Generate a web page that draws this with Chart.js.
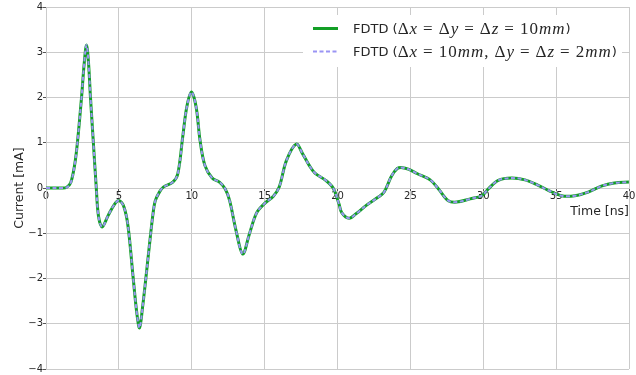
<!DOCTYPE html>
<html><head><meta charset="utf-8">
<script src="https://cdn.jsdelivr.net/npm/chart.js@4.4.0/dist/chart.umd.min.js"></script>
<style>html,body{margin:0;padding:0;background:#fff;}canvas{display:block;}</style>
</head><body>
<canvas id="c" width="636" height="375"></canvas>
<script>
// ---- data ----
const timeNs = [0, 1.0, 1.4, 1.7, 1.98, 2.17, 2.44, 2.62, 2.78, 2.92, 3.05, 3.24, 3.45, 3.6, 3.85, 4.26, 4.72, 5.02, 5.35, 5.63, 5.97, 6.24, 6.42, 6.62, 6.85, 7.05, 7.33, 7.5, 7.8, 8.05, 8.7, 9.04, 9.38, 9.66, 9.98, 10.3, 10.57, 10.9, 11.4, 11.9, 12.3, 12.6, 13.04, 13.5, 13.95, 14.45, 14.97, 15.6, 16.0, 16.5, 17.17, 17.6, 18.06, 18.45, 19.19, 19.7, 20.1, 20.3, 20.8, 21.27, 21.95, 22.8, 23.2, 23.7, 24.1, 24.45, 24.9, 25.45, 26.36, 26.93, 27.6, 28.18, 29.1, 29.9, 30.35, 31.03, 31.94, 32.86, 33.77, 34.46, 35.37, 36.28, 37.2, 38.1, 39.0, 40];
const currentCoarse = [0, 0, 0.01, 0.12, 0.54, 1.05, 2.01, 2.75, 3.16, 2.75, 2.01, 1.05, 0.0, -0.62, -0.86, -0.61, -0.35, -0.28, -0.42, -0.85, -1.95, -2.79, -3.09, -2.65, -2.0, -1.4, -0.6, -0.28, -0.08, 0.02, 0.13, 0.31, 1.13, 1.79, 2.12, 1.79, 1.05, 0.5, 0.22, 0.13, -0.02, -0.28, -0.94, -1.46, -1.02, -0.55, -0.35, -0.18, 0.02, 0.61, 0.97, 0.76, 0.5, 0.33, 0.17, 0.0, -0.35, -0.55, -0.67, -0.57, -0.39, -0.2, -0.09, 0.26, 0.43, 0.45, 0.41, 0.32, 0.18, -0.02, -0.28, -0.31, -0.24, -0.17, -0.02, 0.17, 0.22, 0.18, 0.06, -0.05, -0.17, -0.17, -0.09, 0.04, 0.11, 0.13];
const currentFine = [0, 0, 0.01, 0.12, 0.54, 1.05, 2.01, 2.75, 3.16, 2.75, 2.01, 1.05, 0.0, -0.62, -0.86, -0.61, -0.35, -0.28, -0.42, -0.85, -1.95, -2.79, -3.09, -2.65, -2.0, -1.4, -0.6, -0.28, -0.08, 0.02, 0.13, 0.31, 1.13, 1.79, 2.12, 1.79, 1.05, 0.5, 0.22, 0.13, -0.02, -0.28, -0.94, -1.46, -1.02, -0.55, -0.35, -0.18, 0.02, 0.61, 0.97, 0.76, 0.5, 0.33, 0.17, 0.0, -0.35, -0.55, -0.67, -0.57, -0.39, -0.2, -0.09, 0.26, 0.43, 0.45, 0.41, 0.32, 0.18, -0.02, -0.28, -0.31, -0.24, -0.17, -0.02, 0.17, 0.22, 0.18, 0.06, -0.05, -0.17, -0.17, -0.09, 0.04, 0.11, 0.13];
const xRange = [0, 40];
const xStep = 5;
const yRange = [-4, 4];
const yStep = 1;
const xTitle = 'Time [ns]';
const yTitle = 'Current [mA]';
// legend labels: [text, style]  s = sans, r = math roman, i = math italic
const legendCoarse = [['FDTD (', 's'], ['Δ', 'r'], ['x', 'i'], [' = ', 'r'], ['Δ', 'r'], ['y', 'i'], [' = ', 'r'], ['Δ', 'r'], ['z', 'i'], [' = ', 'r'], ['10', 'r'], ['mm', 'i'], [')', 's']];
const legendFine = [['FDTD (', 's'], ['Δ', 'r'], ['x', 'i'], [' = ', 'r'], ['10', 'r'], ['mm', 'i'], [', ', 'r'], ['Δ', 'r'], ['y', 'i'], [' = ', 'r'], ['Δ', 'r'], ['z', 'i'], [' = ', 'r'], ['2', 'r'], ['mm', 'i'], [')', 's']];

// ---- styles ----
const GREEN = '#139f26';
const PURPLE = '#9a94f4';
const GRID = '#cbcbcb';
const TEXT = '#262626';
const FONTS = {
  s: '13px "DejaVu Sans"',
  r: '17px "Liberation Serif"',
  i: 'italic 17px "Liberation Serif"'
};
const MATH_GAP = 5;
const MATH_SPACING = 1;

function drawRich(ctx, segs, x, y) {
  for (const [txt, st] of segs) {
    ctx.font = FONTS[st];
    if (st === 's') { ctx.fillText(txt, x, y); x += ctx.measureText(txt).width; continue; }
    for (const ch of txt) {
      if (ch === ' ') { x += MATH_GAP; continue; }
      ctx.fillText(ch, x, y);
      x += ctx.measureText(ch).width + MATH_SPACING;
    }
  }
}

const overlayPlugin = {
  id: 'overlay',
  afterDraw(chart) {
    const ctx = chart.ctx;
    const area = chart.chartArea;
    const ys = chart.scales.y;
    ctx.save();
    // x-axis title
    ctx.fillStyle = TEXT;
    ctx.font = '12.5px "DejaVu Sans"';
    ctx.textAlign = 'right';
    ctx.textBaseline = 'alphabetic';
    ctx.fillText(xTitle, area.right, ys.getPixelForValue(0) + 27);
    // legend
    ctx.fillStyle = '#ffffff';
    ctx.fillRect(303, 15, 319, 52);
    const rows = [
      {segs: legendCoarse, color: GREEN, width: 3, dash: [], y: 28.5},
      {segs: legendFine, color: PURPLE, width: 2, dash: [4, 2.5], y: 51.5}
    ];
    for (const r of rows) {
      ctx.strokeStyle = r.color;
      ctx.lineWidth = r.width;
      ctx.setLineDash(r.dash);
      ctx.beginPath();
      ctx.moveTo(313, r.y);
      ctx.lineTo(338, r.y);
      ctx.stroke();
      ctx.setLineDash([]);
      ctx.fillStyle = TEXT;
      ctx.textAlign = 'left';
      ctx.textBaseline = 'middle';
      drawRich(ctx, r.segs, 353, r.y + 1);
    }
    ctx.restore();
  }
};

const toPts = vals => timeNs.map((t, i) => ({x: t, y: vals[i]}));

new Chart(document.getElementById('c').getContext('2d'), {
  type: 'line',
  data: {
    datasets: [
      {label: 'coarse', data: toPts(currentCoarse), order: 2, borderColor: GREEN, borderWidth: 3, pointRadius: 0, tension: 0.35, fill: false},
      {label: 'fine', data: toPts(currentFine), order: 1, borderColor: PURPLE, borderWidth: 2, borderDash: [4, 2.5], pointRadius: 0, tension: 0.35, fill: false}
    ]
  },
  options: {
    responsive: false,
    animation: false,
    devicePixelRatio: 1,
    layout: {padding: {left: 0, right: 7, top: 7, bottom: 6}},
    plugins: {legend: {display: false}, tooltip: {enabled: false}},
    scales: {
      x: {
        type: 'linear', position: {y: 0}, min: xRange[0], max: xRange[1],
        ticks: {stepSize: xStep, font: {family: 'DejaVu Sans', size: 10}, color: TEXT, padding: 0, maxRotation: 0, autoSkip: false},
        grid: {color: GRID, tickColor: '#555', tickLength: 2, lineWidth: 1},
        border: {color: GRID},
        afterFit(s) { s.height = 0; }
      },
      y: {
        type: 'linear', min: yRange[0], max: yRange[1],
        ticks: {stepSize: yStep, font: {family: 'DejaVu Sans', size: 10}, color: TEXT, padding: 0,
          callback: v => v < 0 ? '\u2212' + (-v) : String(v)},
        grid: {color: GRID, tickColor: '#555', tickLength: 3, lineWidth: 1},
        border: {color: GRID},
        title: {display: true, text: yTitle, font: {family: 'DejaVu Sans', size: 12.5}, color: TEXT, padding: {top: 12}},
        afterFit(s) { s.width = 46; }
      }
    }
  },
  plugins: [overlayPlugin]
});
</script>
</body></html>
